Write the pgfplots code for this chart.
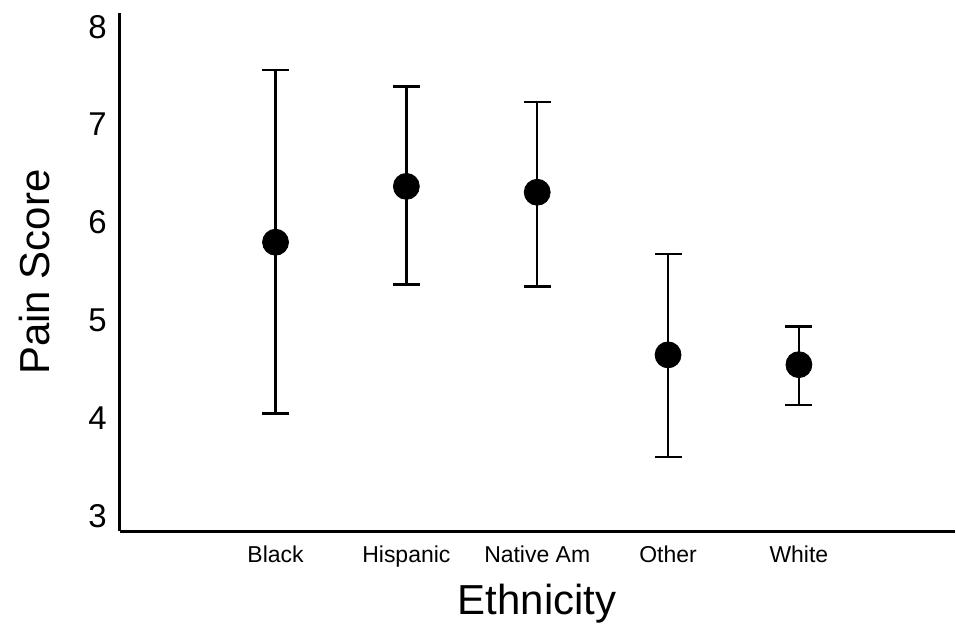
\documentclass[border=0pt]{standalone}
\usepackage{pgfplots}
\pgfplotsset{compat=1.18}
\usepackage{pgfplotstable}
\usepackage{fontspec}
\setmainfont{Liberation Sans}
\pgfplotstableread{
x y ep em
0 5.80 1.76 1.75
1 6.37 1.02 1.00
2 6.31 0.92 0.96
3 4.65 1.03 1.04
4 4.55 0.39 0.41
}\datatable
\begin{document}
\begin{tikzpicture}
\begin{axis}[
  scale only axis,
  width=418pt, height=259.5pt,
  at={(0,0)}, anchor=south west,
  xmin=-1.19, xmax=5.19,
  ymin=2.85, ymax=8.14,
  axis x line*=bottom, axis y line*=left,
  axis line style={line width=1.4pt, -},
  xtick={0,1,2,3,4},
  xticklabels={Black,Hispanic,Native Am,Other,White},
  ytick={3,4,5,6,7,8},
  major tick length=0pt,
  tick style={draw=none},
  /pgf/number format/assume math mode=true,
  xticklabel style={font=\fontsize{11.5}{13}\selectfont, yshift=-4pt},
  yticklabel style={font=\fontsize{16.5}{18}\selectfont, xshift=-3pt},
  xlabel={Ethnicity},
  ylabel={Pain Score},
  xlabel style={font=\fontsize{21}{25}\selectfont, at={(axis description cs:0.5,-0.1407)}, anchor=center},
  ylabel style={font=\fontsize{21}{25}\selectfont, at={(axis description cs:-0.1017,0.5)}, anchor=center},
  clip=false,
]
\addplot[only marks, mark=*, mark size=6.5pt, color=black,
  error bars/.cd, y dir=both, y explicit,
  error bar style={line width=1.2pt, black},
  error mark options={rotate=90, mark size=6.75pt, line width=1.2pt, black}]
  table[x=x, y=y, y error plus=ep, y error minus=em] {\datatable};
\end{axis}
\path (-60pt,-46pt) rectangle (418pt,266pt);
\end{tikzpicture}
\end{document}
